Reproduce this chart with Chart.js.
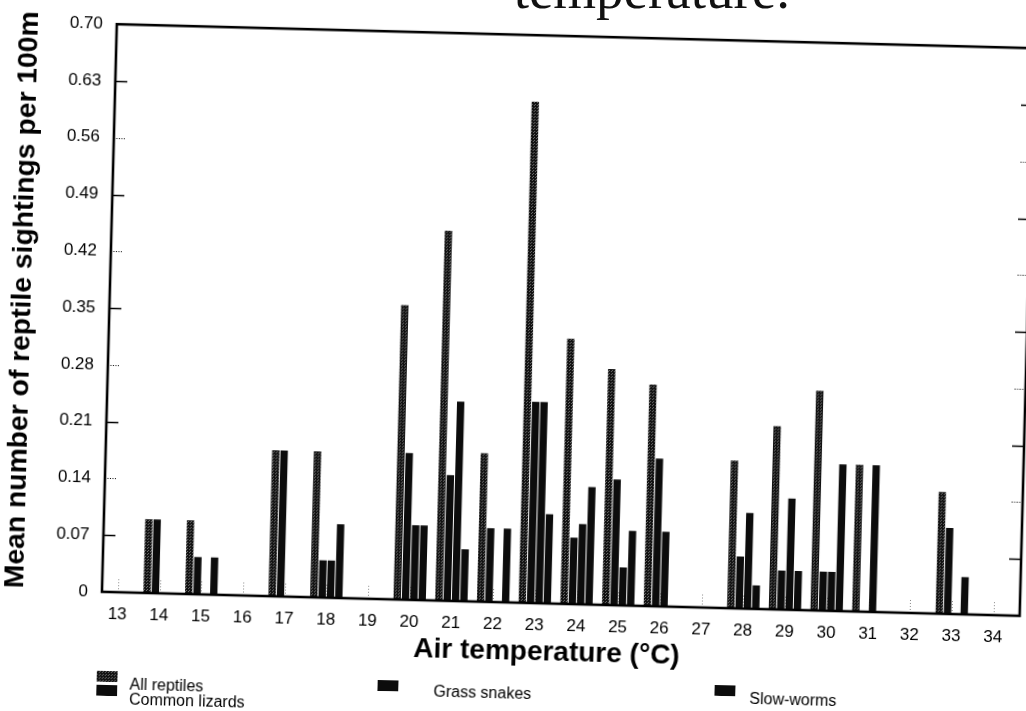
<!DOCTYPE html>
<html>
<head>
<meta charset="utf-8">
<title>Reptile sightings and air temperature</title>
<script src="https://cdn.jsdelivr.net/npm/chart.js@4.4.1/dist/chart.umd.min.js"></script>
<style>
  html, body { margin: 0; padding: 0; background: #fff; }
  #page { position: relative; width: 1026px; height: 711px; overflow: hidden; background: #fff; }
  #sheet { position: absolute; left: 0; top: 0; width: 1070px; height: 711px;
           transform-origin: 117px 17px; transform: rotate(1.5deg); }
  #chart { position: absolute; left: 0; top: 0; width: 1070px; height: 711px; }
  .heading { position: absolute; left: 340px; top: -38px; width: 450px; text-align: right;
             font-family: "Liberation Serif", "DejaVu Serif", serif; font-size: 55px; line-height: 55px; color: #111; }
  .swatch { position: absolute; width: 21px; height: 11px; }
  .key { position: absolute; font-family: "Liberation Sans", Arial, sans-serif; font-size: 16px;
         line-height: 16px; color: #000; white-space: nowrap; }
</style>
</head>
<body>
<div id="page">
  <div class="heading">temperature.</div>
  <div id="sheet">
    <canvas id="chart" width="1070" height="711"></canvas>
    <div id="legend"></div>
  </div>
</div>
<script>
// Air temperature classes (°C)
const temperatures = [13, 14, 15, 16, 17, 18, 19, 20, 21, 22, 23, 24, 25, 26, 27, 28, 29, 30, 31, 32, 33, 34];

// Mean number of sightings per 100 m, one value per temperature class
const allReptiles   = [0, 0.091, 0.091, 0, 0.180, 0.180, 0, 0.363, 0.456, 0.183, 0.618, 0.327, 0.291, 0.273, 0, 0.182, 0.226, 0.271, 0.181, 0, 0.150, 0];
const commonLizards = [0, 0.091, 0.046, 0, 0.180, 0.046, 0, 0.181, 0.155, 0.091, 0.248, 0.082, 0.155, 0.182, 0, 0.064, 0.048, 0.048, 0, 0, 0.106, 0];
const grassSnakes   = [0, 0, 0, 0, 0, 0.046, 0, 0.092, 0.246, 0, 0.248, 0.099, 0.047, 0.092, 0, 0.118, 0.137, 0.048, 0.181, 0, 0, 0];
const slowWorms     = [0, 0, 0.046, 0, 0, 0.091, 0, 0.092, 0.064, 0.091, 0.110, 0.145, 0.092, 0, 0, 0.029, 0.048, 0.181, 0, 0, 0.046, 0];

const seriesNames = ['All reptiles', 'Common lizards', 'Grass snakes', 'Slow-worms'];

// Value axis ticks
const yTickValues = [0, 0.07, 0.14, 0.21, 0.28, 0.35, 0.42, 0.49, 0.56, 0.63, 0.70];
const yTickLabels = ['0', '0.07', '0.14', '0.21', '0.28', '0.35', '0.42', '0.49', '0.56', '0.63', '0.70'];

const xAxisTitle = 'Air temperature (°C)';
const yAxisTitle = 'Mean number of reptile sightings per 100m';

const FONT = '"Liberation Sans", Arial, Helvetica, sans-serif';

// Speckled dark fill for the "all reptiles" series
function speckle() {
  const c = document.createElement('canvas');
  c.width = 3; c.height = 3;
  const g = c.getContext('2d');
  g.fillStyle = '#111'; g.fillRect(0, 0, 3, 3);
  g.fillStyle = '#6e6e6e'; g.fillRect(0, 0, 1, 1); g.fillRect(2, 1, 1, 1);
  return g.createPattern(c, 'repeat');
}

const fills = [speckle(), '#0c0c0c', '#0c0c0c', '#0c0c0c'];
const seriesValues = [allReptiles, commonLizards, grassSnakes, slowWorms];

const datasets = seriesValues.map((vals, i) => ({
  label: seriesNames[i],
  data: temperatures.map((t, k) => ({ x: t, y: vals[k] })),
  backgroundColor: fills[i],
  borderWidth: 0,
  barPercentage: 0.88,
  categoryPercentage: 0.8
}));

// Frame, inward tick marks, dotted class marks along the base and the two axis titles
const framePlugin = {
  id: 'frame',
  beforeDatasetsDraw(chart) {
    const { ctx, chartArea: a, scales: { x } } = chart;
    ctx.save();
    ctx.strokeStyle = '#888';
    ctx.lineWidth = 1;
    ctx.setLineDash([1, 2]);
    temperatures.forEach(t => {
      const px = Math.round(x.getPixelForValue(t)) + 0.5;
      ctx.beginPath();
      ctx.moveTo(px, a.bottom);
      ctx.lineTo(px, a.bottom - 14);
      ctx.stroke();
    });
    ctx.restore();
  },
  afterDatasetsDraw(chart) {
    const { ctx, chartArea: a, scales: { y } } = chart;
    ctx.save();
    ctx.strokeStyle = '#000';
    yTickValues.forEach((v, i) => {
      if (i === 0 || i === yTickValues.length - 1) return;
      const py = Math.round(y.getPixelForValue(v)) + 0.5;
      const solid = i % 2 === 1;
      ctx.lineWidth = solid ? 1.6 : 1;
      ctx.setLineDash(solid ? [] : [1, 1.5]);
      ctx.beginPath();
      ctx.moveTo(a.left, py); ctx.lineTo(a.left + 12, py);
      ctx.moveTo(a.right, py); ctx.lineTo(a.right - 12, py);
      ctx.stroke();
    });
    ctx.setLineDash([]);
    ctx.lineWidth = 2.6;
    ctx.strokeRect(a.left, a.top, a.right - a.left, a.bottom - a.top);

    ctx.fillStyle = '#000';
    ctx.textAlign = 'center';
    ctx.textBaseline = 'middle';

    // x-axis title, set slightly left of the plot centre
    ctx.font = 'bold 28px ' + FONT;
    ctx.fillText(xAxisTitle, (a.left + a.right) / 2 - 13, a.bottom + 49);

    // y-axis title, rotated, set slightly above the plot's mid-height
    ctx.save();
    ctx.translate(30, (a.top + a.bottom) / 2 - 6);
    ctx.rotate(-Math.PI / 2);
    ctx.font = 'bold 28.3px ' + FONT;
    ctx.fillText(yAxisTitle, 0, 0);
    ctx.restore();

    ctx.restore();
  }
};

const chart = new Chart(document.getElementById('chart'), {
  type: 'bar',
  data: { datasets },
  plugins: [framePlugin],
  options: {
    responsive: false,
    animation: false,
    layout: { padding: { top: 17, right: 35, bottom: 0, left: 0 } },
    plugins: { legend: { display: false }, tooltip: { enabled: false } },
    scales: {
      x: {
        type: 'linear',
        offset: false,
        min: 12.62,
        max: 34.63,
        afterBuildTicks(scale) { scale.ticks = temperatures.map(t => ({ value: t })); },
        afterFit(scale) { scale.height = 119; },
        grid: { display: false, drawTicks: false, offset: false },
        border: { display: false },
        ticks: {
          autoSkip: false, maxRotation: 0, padding: 12, color: '#000',
          font: { family: FONT, size: 17 },
          callback: v => String(v)
        },
        title: { display: false }
      },
      y: {
        min: 0,
        max: 0.7,
        afterBuildTicks(scale) { scale.ticks = yTickValues.map(v => ({ value: v })); },
        afterFit(scale) { scale.width = 117; },
        grid: { display: false, drawTicks: false },
        border: { display: false },
        ticks: {
          padding: 14, color: '#000',
          font: { family: FONT, size: 17 },
          callback: (v, i) => yTickLabels[i]
        },
        title: { display: false }
      }
    }
  }
});

// Legend built from the chart's datasets: three keys on the first row, one below
const legendSpots = [
  { left: 114, swatchMid: 676, textMid: 684, gap: 12 },
  { left: 114, swatchMid: 690, textMid: 699, gap: 12 },
  { left: 395, swatchMid: 678, textMid: 683, gap: 35 },
  { left: 732, swatchMid: 674, textMid: 682, gap: 14 }
];
const legend = document.getElementById('legend');
chart.data.datasets.forEach((ds, i) => {
  const spot = legendSpots[i];
  const sw = document.createElement('canvas');
  sw.className = 'swatch';
  sw.width = 21; sw.height = 11;
  sw.style.left = spot.left + 'px';
  sw.style.top = (spot.swatchMid - 5.5) + 'px';
  const g = sw.getContext('2d');
  g.fillStyle = ds.backgroundColor;
  g.fillRect(0, 0, 21, 11);
  legend.appendChild(sw);
  const label = document.createElement('div');
  label.className = 'key';
  label.textContent = ds.label;
  label.style.left = (spot.left + 21 + spot.gap) + 'px';
  label.style.top = (spot.textMid - 8) + 'px';
  legend.appendChild(label);
});
</script>
</body>
</html>
